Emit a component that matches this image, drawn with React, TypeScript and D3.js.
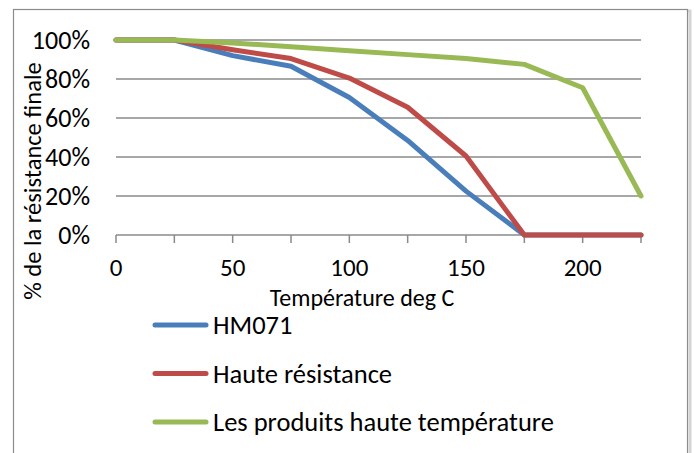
import React from "react";
import * as d3 from "d3";

const temps = [0, 25, 50, 75, 100, 125, 150, 175, 200, 225];
const hm071 = [100, 100, 92, 86.5, 70.5, 48.5, 22.5, 0, 0, 0];
const hauteRes = [100, 100, 95, 90.5, 80.5, 65.5, 40.5, 0, 0, 0];
const hauteTemp = [100, 100, 98.5, 96.5, 94.5, 92.5, 90.5, 87.5, 75.5, 20];
const seriesNames = ["HM071", "Haute résistance", "Les produits haute température"];
const seriesColors = ["#4A7EBB", "#BE4B48", "#98B954"];
const yTicks = [0, 20, 40, 60, 80, 100];
const xLabels = [0, 50, 100, 150, 200];
const xTicks = [0, 25, 50, 75, 100, 125, 150, 175, 200, 225];

const FONT = "Carlito, Lato, sans-serif";

export default function App() {
  const W = 694, H = 453;
  const x = d3.scaleLinear().domain([0, 225]).range([116, 641]);
  const y = d3.scaleLinear().domain([0, 100]).range([235, 40]);
  const line = d3.line<[number, number]>().x(d => x(d[0])).y(d => y(d[1]));
  const data = [hm071, hauteRes, hauteTemp];

  return (
    <svg width={W} height={H} style={{ position: "absolute", left: 0, top: 0 }} fontFamily={FONT}>
      <rect x={0} y={0} width={W} height={H} fill="#fff" />
      <rect x={15} y={11} width={675} height={460} fill="none" stroke="#d4d4d4" strokeWidth={3} />
      <rect x={13.5} y={9.5} width={674} height={460} fill="#fff" stroke="#8c8c8c" strokeWidth={1.2} />
      {yTicks.filter(t => t > 0).map(t => (
        <line key={t} x1={x(0)} x2={x(225)} y1={y(t)} y2={y(t)} stroke="#8a8a8a" strokeWidth={1.5} />
      ))}
      <line x1={x(0)} x2={x(225)} y1={y(0)} y2={y(0)} stroke="#8a8a8a" strokeWidth={1.5} />
      {xTicks.map(t => (
        <line key={t} x1={x(t)} x2={x(t)} y1={y(0)} y2={y(0) + 8} stroke="#8a8a8a" strokeWidth={1.5} />
      ))}
      {yTicks.map(t => (
        <text key={t} x={90} y={y(t) + 8.5} textAnchor="end" fontSize={26} fill="#000">{t}%</text>
      ))}
      {xLabels.map(t => (
        <text key={t} x={x(t)} y={276} textAnchor="middle" fontSize={25} fill="#000">{t}</text>
      ))}
      <text x={362} y={306} textAnchor="middle" fontSize={24} fill="#000">Température deg C</text>
      <text transform={`translate(41,181) rotate(-90)`} textAnchor="middle" fontSize={24.5} fill="#000">%  de la résistance finale</text>
      {data.map((s, i) => (
        <path key={i} d={line(temps.map((t, j) => [t, s[j]]) as [number, number][]) || ""} fill="none"
          stroke={seriesColors[i]} strokeWidth={5} strokeLinejoin="round" strokeLinecap="round" />
      ))}
      {seriesNames.map((n, i) => (
        <g key={n}>
          <line x1={155} x2={206} y1={325 + i * 48.5} y2={325 + i * 48.5} stroke={seriesColors[i]} strokeWidth={5} strokeLinecap="round" />
          <text x={213} y={334 + i * 48.5} fontSize={26.5} fill="#000">{n}</text>
        </g>
      ))}
    </svg>
  );
}
